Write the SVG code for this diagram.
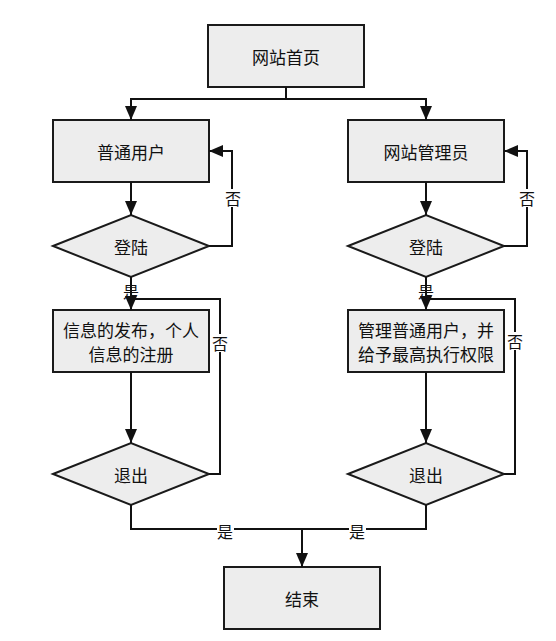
<svg xmlns="http://www.w3.org/2000/svg" width="556" height="641" viewBox="0 0 556 641">
<style>
.box{fill:#EDEDED;stroke:#1a1a1a;stroke-width:2}
.t{font-family:"Noto Sans CJK SC","Microsoft YaHei",sans-serif;font-size:17px;fill:#111;text-anchor:middle;dominant-baseline:central}
.c{fill:none;stroke:#111;stroke-width:2}
.lbl{font-family:"Noto Sans CJK SC",sans-serif;font-size:16px;fill:#111;text-anchor:middle;dominant-baseline:central}
.bg{fill:#fff}
</style>
<defs>
<marker id="ar" markerUnits="userSpaceOnUse" markerWidth="14" markerHeight="12" refX="14" refY="6" orient="auto">
<path d="M0,0 L14,6 L0,12 Z" fill="#111"/>
</marker>
</defs>
<rect width="556" height="641" fill="#fff"/>
<g id="n1"><rect class="box" x="208" y="25" width="156" height="62"/><text class="t" x="286" y="56">网站首页</text></g>
<g id="n2"><rect class="box" x="53" y="120" width="156" height="62"/><text class="t" x="131" y="151">普通用户</text></g>
<g id="n3"><rect class="box" x="348" y="120" width="156" height="62"/><text class="t" x="426" y="151">网站管理员</text></g>
<g id="n4"><polygon class="box" points="53,246 131,215 209,246 131,277"/><text class="t" x="131" y="246">登陆</text></g>
<g id="n5"><polygon class="box" points="348,246 426,215 504,246 426,277"/><text class="t" x="426" y="246">登陆</text></g>
<g id="n6"><rect class="box" x="53" y="310" width="156" height="62"/><text class="t" x="131" y="329">信息的发布，个人</text><text class="t" x="131" y="353">信息的注册</text></g>
<g id="n7"><rect class="box" x="348" y="310" width="156" height="62"/><text class="t" x="426" y="329">管理普通用户，并</text><text class="t" x="426" y="353">给予最高执行权限</text></g>
<g id="n8"><polygon class="box" points="53,474 131,443 209,474 131,505"/><text class="t" x="131" y="474">退出</text></g>
<g id="n9"><polygon class="box" points="348,474 426,443 504,474 426,505"/><text class="t" x="426" y="474">退出</text></g>
<g id="n10"><rect class="box" x="224" y="567" width="156" height="62"/><text class="t" x="302" y="598">结束</text></g>
<g id="connectors">
<path class="c" d="M286,87 V99 H131 V120" marker-end="url(#ar)"/>
<path class="c" d="M286,99 H426 V120" marker-end="url(#ar)"/>
<path class="c" d="M131,182 V215" marker-end="url(#ar)"/>
<path class="c" d="M426,182 V215" marker-end="url(#ar)"/>
<path class="c" d="M209,246 H232 V151 H209" marker-end="url(#ar)"/>
<path class="c" d="M504,246 H527 V151 H504" marker-end="url(#ar)"/>
<rect class="bg" x="224" y="189" width="17" height="18"/><text class="lbl" x="233" y="198">否</text>
<rect class="bg" x="519" y="189" width="17" height="18"/><text class="lbl" x="527" y="198">否</text>
<text class="lbl" x="131" y="291">是</text>
<text class="lbl" x="426" y="291">是</text>
<path class="c" d="M131,277 V310" marker-end="url(#ar)"/>
<path class="c" d="M426,277 V310" marker-end="url(#ar)"/>
<path class="c" d="M131,372 V443" marker-end="url(#ar)"/>
<path class="c" d="M426,372 V443" marker-end="url(#ar)"/>
<path class="c" d="M209,474 H220 V299 H131"/>
<path class="c" d="M504,474 H515 V299 H426"/>
<rect class="bg" x="212" y="334" width="17" height="18"/><text class="lbl" x="220" y="343">否</text>
<rect class="bg" x="507" y="332" width="17" height="18"/><text class="lbl" x="515" y="341">否</text>
<path class="c" d="M131,505 V529 H426 V505"/>
<path class="c" d="M302,529 V567" marker-end="url(#ar)"/>
<rect class="bg" x="217" y="522" width="17" height="17"/><text class="lbl" x="225" y="531">是</text>
<rect class="bg" x="349" y="522" width="17" height="17"/><text class="lbl" x="357" y="531">是</text>
</g>
</svg>
